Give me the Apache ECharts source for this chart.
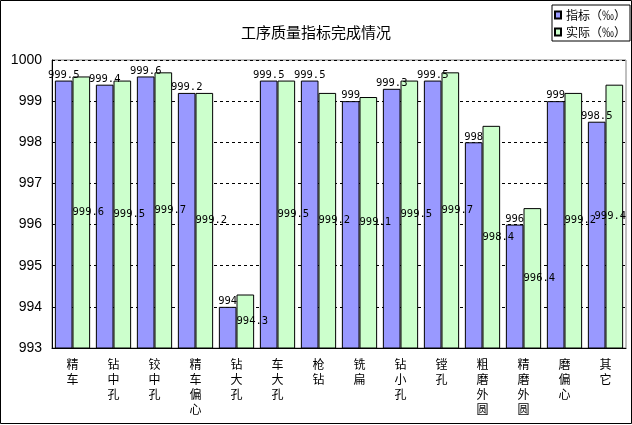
<!DOCTYPE html>
<html><head><meta charset="utf-8">
<script src="https://cdn.jsdelivr.net/npm/echarts@6/dist/echarts.min.js"></script>
<style>html,body{margin:0;padding:0;background:#fff}#c{width:632px;height:425px}</style>
</head><body><div id="c"></div>
<script>
var categories = ['精车','钻中孔','铰中孔','精车偏心','钻大孔','车大孔','枪钻','铣扁','钻小孔','镗孔','粗磨外圆','精磨外圆','磨偏心','其它'];
var targetValues = [999.5, 999.4, 999.6, 999.2, 994, 999.5, 999.5, 999, 999.3, 999.5, 998, 996, 999, 998.5];
var actualValues = [999.6, 999.5, 999.7, 999.2, 994.3, 999.5, 999.2, 999.1, 999.5, 999.7, 998.4, 996.4, 999.2, 999.4];
var yTicks = [993, 994, 995, 996, 997, 998, 999, 1000];
var seriesNames = ['指标（‰）', '实际（‰）'];
var titleText = '工序质量指标完成情况';

var chart = echarts.init(document.getElementById('c'));
var cjk = '"Noto Sans CJK SC", sans-serif';
var mono = '"DejaVu Sans Mono", monospace';
var actualData = actualValues.map(function(v, i){
  return { value: v, label: { offset: [i === actualValues.length - 1 ? -4 : 7, 0] } };
});
chart.setOption({
  animation: false,
  title: { text: titleText, left: 'center', top: 20, textStyle: { fontFamily: cjk, fontSize: 15, fontWeight: 'normal', color: '#000' } },
  legend: {
    orient: 'vertical', left: 552, top: 5, itemWidth: 6, itemHeight: 7, itemGap: 5,
    padding: [4, 4, 3, 2], borderColor: '#000', borderWidth: 1,
    textStyle: { fontFamily: cjk, fontSize: 12, color: '#000' },
    data: seriesNames.map(function(n){ return { name: n, icon: 'rect' }; })
  },
  graphic: [{ type: 'rect', shape: { x: 0.5, y: 0.5, width: 631, height: 423 }, style: { fill: 'none', stroke: '#000', lineWidth: 1 }, silent: true }],
  grid: { left: 52, right: 6, top: 60, bottom: 77, show: true, borderColor: '#808080', borderWidth: 1 },
  xAxis: {
    type: 'category', data: categories,
    axisLine: { lineStyle: { color: '#000', width: 1 } },
    axisTick: { inside: true, length: 3, lineStyle: { color: '#000' } },
    axisLabel: { interval: 0, margin: 9, fontFamily: cjk, fontSize: 12, lineHeight: 15, color: '#000',
      formatter: function(v){ return v.split('').join('\n'); } }
  },
  yAxis: {
    type: 'value', min: yTicks[0], max: yTicks[yTicks.length - 1], interval: 1,
    axisLine: { show: true, lineStyle: { color: '#000', width: 1 } },
    axisTick: { show: true, inside: true, length: 3, lineStyle: { color: '#000' } },
    splitLine: { lineStyle: { color: '#000', type: [3, 3], width: 1 } },
    axisLabel: { margin: 10, fontFamily: '"Liberation Sans", sans-serif', fontSize: 14, color: '#000',
      formatter: function(v){ return String(v); } }
  },
  series: [
    { name: seriesNames[0], type: 'bar', data: targetValues, barGap: '0%', barCategoryGap: '14%',
      itemStyle: { color: '#9999ff', borderColor: '#000', borderWidth: 1 },
      label: { show: true, position: 'top', distance: 0, fontFamily: mono, fontSize: 10.5, color: '#000' } },
    { name: seriesNames[1], type: 'bar', data: actualData,
      itemStyle: { color: '#ccffcc', borderColor: '#000', borderWidth: 1 },
      label: { show: true, position: 'inside', fontFamily: mono, fontSize: 10.5, color: '#000' } }
  ]
});
</script></body></html>
